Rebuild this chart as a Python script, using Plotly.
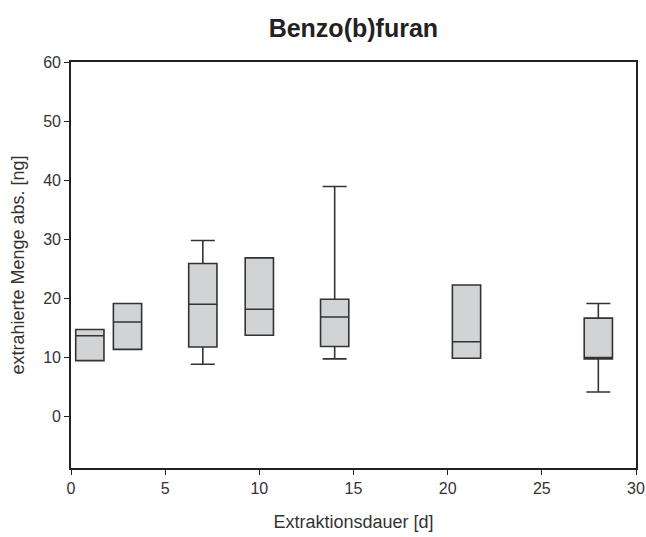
import plotly.graph_objects as go

days = [1, 3, 7, 10, 14, 21, 28]
q1 = [9.4, 11.3, 11.7, 13.7, 11.8, 9.8, 9.7]
median = [13.6, 15.95, 18.95, 18.1, 16.8, 12.6, 9.9]
q3 = [14.66, 19.07, 25.85, 26.8, 19.8, 22.2, 16.6]
lower = [9.4, 11.3, 8.77, 13.7, 9.7, 9.8, 4.07]
upper = [14.66, 19.07, 29.75, 26.8, 38.9, 22.2, 19.07]

FONT = "Liberation Sans, Arial"

fig = go.Figure()
fig.add_trace(go.Box(
    x=days, q1=q1, median=median, q3=q3,
    lowerfence=lower, upperfence=upper,
    width=1.5, whiskerwidth=0.85,
    fillcolor="#d2d3d5",
    line=dict(color="#333333", width=1.6),
    boxpoints=False, showlegend=False, hoverinfo="skip",
))

axis_common = dict(
    showline=True, linecolor="#222222", linewidth=1.6, mirror=True,
    ticks="outside", ticklen=5, tickwidth=1.3, tickcolor="#222222",
    showgrid=False, zeroline=False, automargin=False,
    tickfont=dict(family=FONT, size=16, color="#333333"),
)

fig.update_layout(
    width=646, height=537,
    margin=dict(l=71, r=10, t=62, b=69),
    paper_bgcolor="white", plot_bgcolor="white",
    title=dict(text="<b>Benzo(b)furan</b>", x=0.547, xanchor="center", y=0.948, yanchor="middle",
               font=dict(family=FONT, size=25, color="#222222")),
    xaxis=dict(range=[0, 30], tickvals=[0, 5, 10, 15, 20, 25, 30],
               title=dict(text="Extraktionsdauer [d]", standoff=19,
                          font=dict(family=FONT, size=18, color="#333333")),
               **axis_common),
    yaxis=dict(range=[-8.8, 60], tickvals=[0, 10, 20, 30, 40, 50, 60],
               title=dict(text="extrahierte Menge abs. [ng]", standoff=14,
                          font=dict(family=FONT, size=18, color="#333333")),
               **axis_common),
)

fig.write_html("out.html")
